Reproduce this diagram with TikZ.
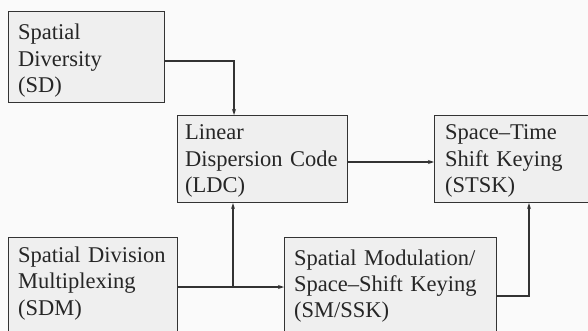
\documentclass[tikz,border=0pt]{standalone}
\usepackage{fontspec}
\setmainfont{Liberation Serif}
\usetikzlibrary{arrows.meta}
\definecolor{boxfill}{HTML}{EFEFEF}
\definecolor{inkc}{HTML}{333333}
\definecolor{textc}{HTML}{262626}
\definecolor{paper}{HTML}{FAFAFA}
\tikzset{
  blk/.style={draw=inkc, fill=boxfill, line width=1.1pt, rectangle, anchor=north west,
    inner sep=0pt},
  lbl/.style={anchor=base west, inner sep=0pt, align=left, text width=220pt, text=textc,
    font=\fontsize{22.5}{26.3}\selectfont},
  arr/.style={draw=inkc, line width=1.1pt, -{Stealth[length=6pt,width=4pt]}}
}
\begin{document}
\begin{tikzpicture}[x=1pt,y=-1pt]
  \fill[paper] (0,0) rectangle (588,331);
  \useasboundingbox (0,0) rectangle (588,331);

  % blocks
  \node[blk, minimum width=156pt, minimum height=91pt] (sd) at (8,11) {};
  \node[blk, minimum width=170pt, minimum height=87pt] (ldc) at (177,115) {};
  \node[blk, minimum width=170pt, minimum height=87pt] (stsk) at (434,115) {};
  \node[blk, minimum width=169pt, minimum height=110pt] (sdm) at (8,237) {};
  \node[blk, minimum width=212pt, minimum height=110pt] (sm) at (284,237) {};

  % block captions
  \node[lbl] (sdtxt) at (18,40) {Spatial\\Diversity\\(SD)};
  \node[lbl] (ldctxt) at (185,140) {Linear\\Dispersion Code\\(LDC)};
  \node[lbl] (stsktxt) at (445,140) {Space--Time\\Shift Keying\\(STSK)};
  \node[lbl] (sdmtxt) at (18,262.5) {Spatial Division\\Multiplexing\\(SDM)};
  \node[lbl] (smtxt) at (294,265) {Spatial Modulation/\\Space--Shift Keying\\(SM/SSK)};

  % bend and branch points
  \coordinate (j1) at (234,61);
  \coordinate (r1) at (0,162);
  \coordinate (j2) at (233,287);
  \coordinate (j3) at (529,296);

  % connectors
  \draw[arr] (sd.east |- j1) -| (j1 |- ldc.north);
  \draw[arr] (ldc.east |- r1) -- (stsk.west |- r1);
  \draw[arr] (sdm.east |- j2) -- (sm.west |- j2);
  \draw[arr] (j2) -- (j2 |- ldc.south);
  \draw[arr] (sm.east |- j3) -| (j3 |- stsk.south);
\end{tikzpicture}
\end{document}
